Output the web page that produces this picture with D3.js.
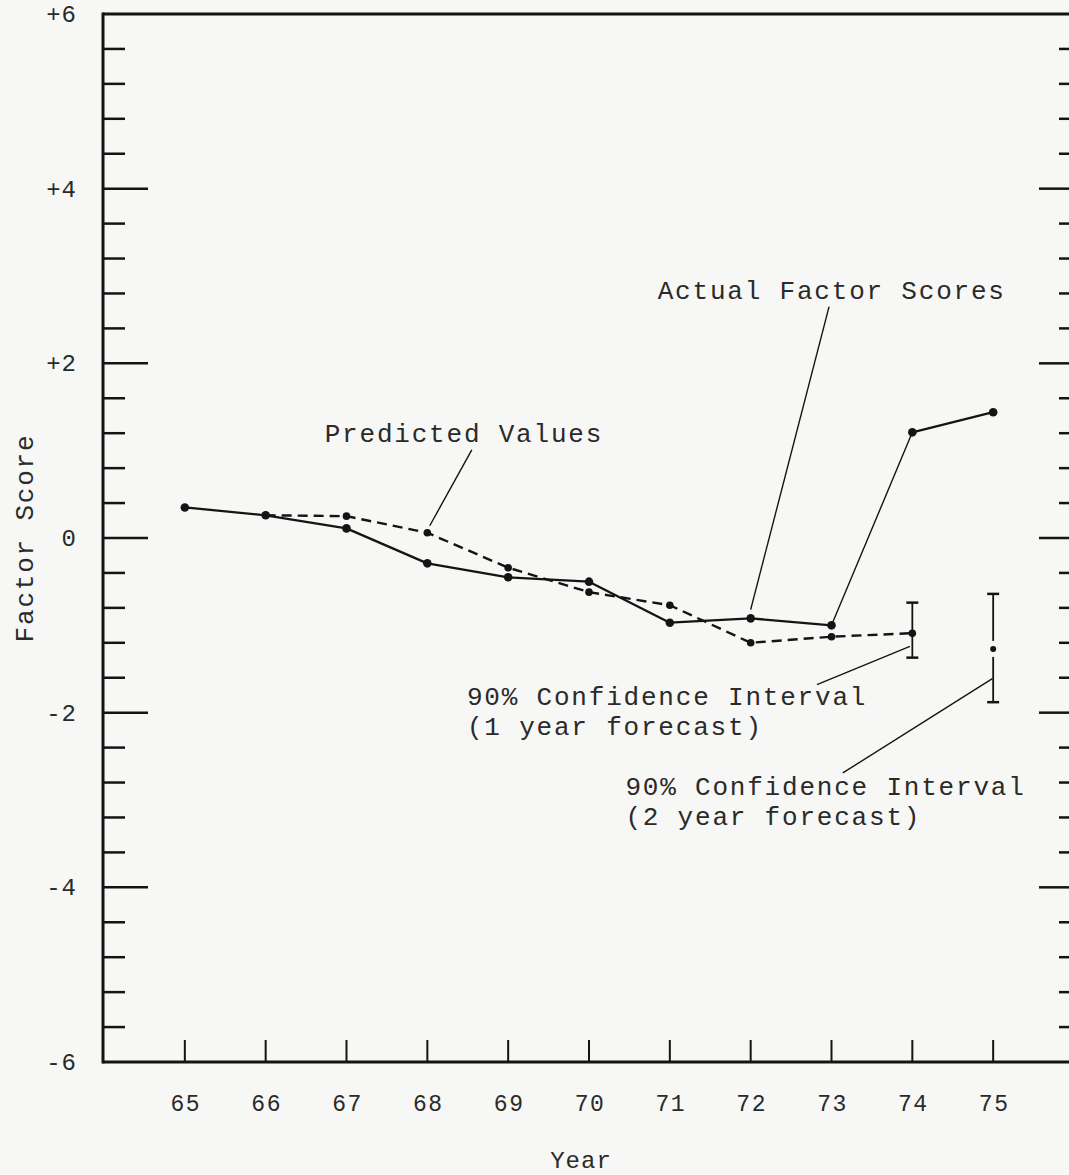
<!DOCTYPE html>
<html>
<head>
<meta charset="utf-8">
<script src="https://cdn.jsdelivr.net/npm/d3@7/dist/d3.min.js"></script>
<style>
  html, body { margin: 0; padding: 0; background: #f7f7f5; }
  svg { display: block; }
  text { font-family: "Liberation Mono", "DejaVu Sans Mono", monospace; fill: #2a2a2a; }
</style>
</head>
<body>
<svg id="chart" width="1069" height="1175"></svg>
<script>
// ---- data ----
const years = [65, 66, 67, 68, 69, 70, 71, 72, 73, 74, 75];
const actualScores = [0.35, 0.26, 0.11, -0.29, -0.45, -0.50, -0.97, -0.92, -1.00, 1.21, 1.44];
const predictedYears = [66, 67, 68, 69, 70, 71, 72, 73, 74];
const predictedScores = [0.26, 0.25, 0.06, -0.34, -0.62, -0.77, -1.20, -1.13, -1.09];
const forecastYears = [74, 75];
const forecastCenter = [-1.09, -1.27];
const forecastUpper = [-0.74, -0.64];
const forecastLower = [-1.37, -1.88];
const yMajorTicks = [6, 4, 2, 0, -2, -4, -6];
const yTickLabels = ["+6", "+4", "+2", "0", "-2", "-4", "-6"];
const yMinorTicks = d3.range(-6, 6.01, 0.4).map(v => +v.toFixed(1));

// annotations (positions in data space: year, score)
const annoTexts = [
  { lines: ["Predicted Values"], x: 66.73, y: 1.10 },
  { lines: ["Actual Factor Scores"], x: 70.85, y: 2.74 },
  { lines: ["90% Confidence Interval", "(1 year forecast)"], x: 68.49, y: -1.91 },
  { lines: ["90% Confidence Interval", "(2 year forecast)"], x: 70.45, y: -2.94 }
];
const leaders = [
  { x1: 68.55, y1: 1.01, x2: 68.03, y2: 0.14 },
  { x1: 72.97, y1: 2.65, x2: 72.0, y2: -0.82 },
  { x1: 72.82, y1: -1.68, x2: 73.97, y2: -1.24 },
  { x1: 73.14, y1: -2.69, x2: 74.99, y2: -1.61 }
];

// ---- scales ----
const svg = d3.select("#chart");
const x = d3.scaleLinear().domain([64, 76]).range([104, 1074]);
const y = d3.scaleLinear().domain([-6, 6]).range([1062, 14]);
const ink = "#141414";
const xLeft = x(64) - 1, xRight = 1069;

// ---- frame ----
svg.append("line").attr("x1", xLeft).attr("x2", xLeft).attr("y1", y(6) - 1.5).attr("y2", y(-6) + 1.5)
  .attr("stroke", ink).attr("stroke-width", 3);
svg.append("line").attr("x1", xLeft).attr("x2", xRight).attr("y1", y(6)).attr("y2", y(6))
  .attr("stroke", ink).attr("stroke-width", 3);
svg.append("line").attr("x1", xLeft).attr("x2", xRight).attr("y1", y(-6)).attr("y2", y(-6))
  .attr("stroke", ink).attr("stroke-width", 3);

// left ticks
const isMajor = v => yMajorTicks.some(m => Math.abs(m - v) < 1e-6);
svg.append("g").selectAll("line").data(yMinorTicks.filter(v => v > -6 && v < 6)).join("line")
  .attr("x1", xLeft).attr("x2", d => xLeft + (isMajor(d) ? 45 : 22))
  .attr("y1", d => y(d)).attr("y2", d => y(d))
  .attr("stroke", ink).attr("stroke-width", 2.5);
// right ticks
svg.append("g").selectAll("line").data(yMinorTicks.filter(v => v > -6 && v < 6)).join("line")
  .attr("x1", d => xRight - (isMajor(d) ? 30 : 10)).attr("x2", xRight)
  .attr("y1", d => y(d)).attr("y2", d => y(d))
  .attr("stroke", ink).attr("stroke-width", 2.5);

// y tick labels
svg.append("g").selectAll("text").data(yMajorTicks).join("text")
  .attr("x", 77).attr("y", d => y(d) + 8)
  .attr("text-anchor", "end").attr("font-size", 24).attr("letter-spacing", 1)
  .text((d, i) => yTickLabels[i]);

// x ticks
svg.append("g").selectAll("line").data(years).join("line")
  .attr("x1", d => x(d)).attr("x2", d => x(d))
  .attr("y1", y(-6)).attr("y2", y(-6) - 22)
  .attr("stroke", ink).attr("stroke-width", 2);
svg.append("g").selectAll("text").data(years).join("text")
  .attr("x", d => x(d) + 1).attr("y", 1111)
  .attr("text-anchor", "middle").attr("font-size", 23).attr("letter-spacing", 1.5)
  .text(d => d);

// axis titles
svg.append("text").attr("x", 581).attr("y", 1168).attr("text-anchor", "middle")
  .attr("font-size", 24).attr("letter-spacing", 1).text("Year");
svg.append("text").attr("transform", `translate(33, ${y(0)}) rotate(-90)`)
  .attr("text-anchor", "middle").attr("font-size", 26).attr("letter-spacing", 1.8).text("Factor Score");

// ---- series ----
const actual = years.map((yr, i) => [yr, actualScores[i]]);
const predicted = predictedYears.map((yr, i) => [yr, predictedScores[i]]);
const lineGen = d3.line().x(d => x(d[0])).y(d => y(d[1]));

svg.append("path").datum(predicted).attr("d", lineGen)
  .attr("fill", "none").attr("stroke", ink).attr("stroke-width", 2.4)
  .attr("stroke-dasharray", "10,6");

// actual line drawn segment by segment (the 73→74 stroke is thinner in the original)
const actualSegs = d3.pairs(actual);
svg.append("g").selectAll("path").data(actualSegs).join("path")
  .attr("d", d => lineGen(d))
  .attr("fill", "none").attr("stroke", ink)
  .attr("stroke-linecap", "round")
  .attr("stroke-width", (d, i) => (d[0][0] === 73 ? 1.4 : 2.3));

svg.append("g").selectAll("circle").data(predicted).join("circle")
  .attr("cx", d => x(d[0])).attr("cy", d => y(d[1])).attr("r", 3.8).attr("fill", ink);
svg.append("g").selectAll("circle").data(actual).join("circle")
  .attr("cx", d => x(d[0])).attr("cy", d => y(d[1])).attr("r", 4.3).attr("fill", ink);

// ---- forecast confidence intervals ----
const ci = forecastYears.map((yr, i) => ({ yr, c: forecastCenter[i], hi: forecastUpper[i], lo: forecastLower[i] }));
const ciG = svg.append("g");
ci.forEach((d, i) => {
  const cx = x(d.yr);
  if (i === 0) {
    ciG.append("line").attr("x1", cx).attr("x2", cx).attr("y1", y(d.hi)).attr("y2", y(d.lo))
      .attr("stroke", ink).attr("stroke-width", 1.8);
  } else {
    ciG.append("line").attr("x1", cx).attr("x2", cx).attr("y1", y(d.hi)).attr("y2", y(d.c) - 8)
      .attr("stroke", ink).attr("stroke-width", 1.8);
    ciG.append("line").attr("x1", cx).attr("x2", cx).attr("y1", y(d.c) + 8).attr("y2", y(d.lo))
      .attr("stroke", ink).attr("stroke-width", 1.8);
    ciG.append("circle").attr("cx", cx).attr("cy", y(d.c)).attr("r", 3).attr("fill", ink);
  }
  [d.hi, d.lo].forEach(v => {
    ciG.append("line").attr("x1", cx - 6).attr("x2", cx + 6).attr("y1", y(v)).attr("y2", y(v))
      .attr("stroke", ink).attr("stroke-width", 2.5);
  });
});

// ---- annotations ----
svg.append("g").selectAll("line").data(leaders).join("line")
  .attr("x1", d => x(d.x1)).attr("y1", d => y(d.y1))
  .attr("x2", d => x(d.x2)).attr("y2", d => y(d.y2))
  .attr("stroke", ink).attr("stroke-width", 1.4);

annoTexts.forEach(a => {
  const t = svg.append("text").attr("x", x(a.x)).attr("y", y(a.y))
    .attr("font-size", 26).attr("letter-spacing", 1.8);
  a.lines.forEach((ln, i) => {
    t.append("tspan").attr("x", x(a.x)).attr("dy", i === 0 ? 0 : 30).text(ln);
  });
});
</script>
</body>
</html>
